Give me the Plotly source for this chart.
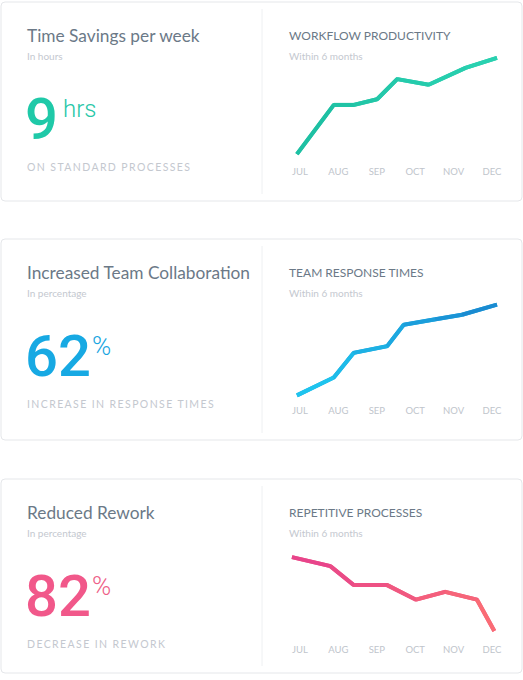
import plotly.graph_objects as go

W, H = 523, 680

# ---------------- data ----------------
months = ["JUL", "AUG", "SEP", "OCT", "NOV", "DEC"]
month_pos = [0, 1, 2, 3, 4, 5]

workflow_x = [-0.08, 0.88, 1.40, 2.01, 2.53, 3.35, 4.31, 5.13]
workflow_y = [7, 51, 51, 56, 74, 69, 84, 93]

response_x = [-0.08, 0.88, 1.40, 2.27, 2.70, 3.52, 4.22, 5.13]
response_y = [5, 21, 43, 49, 68, 73, 77, 86]

repetitive_x = [-0.21, 0.79, 1.40, 2.27, 3.02, 3.78, 4.61, 5.06]
repetitive_y = [74, 66, 49, 49, 36, 43, 36, 8]

card_titles = ["Time Savings per week", "Increased Team Collaboration", "Reduced Rework"]
card_units = ["In hours", "In percentage", "In percentage"]
big_values = ["9", "62", "82"]
big_suffix = ["hrs", "%", "%"]
captions = ["ON STANDARD PROCESSES", "INCREASE IN RESPONSE TIMES", "DECREASE IN REWORK"]
chart_titles = ["WORKFLOW PRODUCTIVITY", "TEAM RESPONSE TIMES", "REPETITIVE PROCESSES"]
chart_subtitle = "Within 6 months"

# ---------------- styles ----------------
grad = [("#1dbfa2", "#2ad2b1"), ("#1ec9f0", "#1a86cf"), ("#e6418d", "#fb6f73")]
big_colors = ["#1fc9a8", "#17a9e3", "#f1588a"]
suffix_colors = ["#28c7a8", "#1aa6e1", "#ee5f88"]

card_top = [2, 239, 479]
card_bot = [201, 440, 673]
plot_top = [50, 289, 528]
plot_bot = [162, 401, 640]

TITLE_C = "#6b7987"
MUTED_C = "#c4c8cf"
FONT = "Lato"


def X(px):
    return px / W


def Y(py):
    return 1 - py / H


def hex2rgb(h):
    h = h.lstrip("#")
    return tuple(int(h[i:i + 2], 16) for i in (0, 2, 4))


def mix(c1, c2, t):
    a, b = hex2rgb(c1), hex2rgb(c2)
    r = [round(a[i] + (b[i] - a[i]) * t) for i in range(3)]
    return "rgb(%d,%d,%d)" % tuple(r)


def rounded_rect(x0, y0, x1, y1, r=4):
    rx, ry = r / W, r / H
    X0, X1 = X(x0), X(x1)
    Yt, Yb = Y(y0), Y(y1)
    return (f"M{X0+rx},{Yt} L{X1-rx},{Yt} Q{X1},{Yt} {X1},{Yt-ry} "
            f"L{X1},{Yb+ry} Q{X1},{Yb} {X1-rx},{Yb} L{X0+rx},{Yb} "
            f"Q{X0},{Yb} {X0},{Yb+ry} L{X0},{Yt-ry} Q{X0},{Yt} {X0+rx},{Yt} Z")


fig = go.Figure()
series = [(workflow_x, workflow_y), (response_x, response_y), (repetitive_x, repetitive_y)]

shapes = []
annotations = []
layout_axes = {}

for i in range(3):
    sx = "" if i == 0 else str(i + 1)
    xs, ys = series[i]
    c0, c1 = grad[i]
    fig.add_trace(go.Scatter(x=xs, y=ys, mode="lines", xaxis="x" + sx, yaxis="y" + sx,
                             line=dict(color=mix(c0, c1, 0.5), width=4),
                             hoverinfo="skip", showlegend=False))
    n = len(xs)
    for k in range(n - 1):
        fig.add_trace(go.Scatter(x=xs[k:k + 2], y=ys[k:k + 2], mode="lines",
                                 xaxis="x" + sx, yaxis="y" + sx,
                                 line=dict(color=mix(c0, c1, (k + 0.5) / (n - 1)), width=4),
                                 hoverinfo="skip", showlegend=False))

    layout_axes["xaxis" + sx] = dict(
        domain=[X(284), X(508)], range=[-0.4167, 5.4167], anchor="y" + sx,
        tickvals=month_pos, ticktext=months, showgrid=False, zeroline=False,
        showline=False, ticks="", fixedrange=True, ticklabelstandoff=2,
        tickfont=dict(family=FONT, size=9.5, color="#c0c5cc"))
    layout_axes["yaxis" + sx] = dict(
        domain=[Y(plot_bot[i]), Y(plot_top[i])], range=[0, 100], anchor="x" + sx,
        visible=False, fixedrange=True)

    shapes.append(dict(type="path", xref="paper", yref="paper",
                       path=rounded_rect(1, card_top[i], 522, card_bot[i]),
                       line=dict(color="#e5e7ea", width=1), fillcolor="white", layer="below"))
    shapes.append(dict(type="line", xref="paper", yref="paper",
                       x0=X(262), x1=X(262), y0=Y(card_top[i] + 7), y1=Y(card_bot[i] - 7),
                       line=dict(color="#eef0f2", width=1), layer="below"))

    t = card_top[i]

    def ann(text, px, py, size, color, family=FONT, weight=None, xanchor="left"):
        f = dict(family=family, size=size, color=color)
        if weight:
            f["weight"] = weight
        annotations.append(dict(text=text, x=X(px), y=Y(py), xref="paper", yref="paper",
                                xanchor=xanchor, yanchor="middle", showarrow=False, font=f))

    ann(card_titles[i], 25, t + 33, 17.3, TITLE_C)
    ann(card_units[i], 25, t + 54, 10, MUTED_C)
    ann(big_values[i], 23, t + 117, 58, big_colors[i], family="Roboto", weight=500)
    suffix_x = 61 if i == 0 else 90
    ann(big_suffix[i], suffix_x, t + 107, 24 if i == 0 else 26, suffix_colors[i],
        family="Roboto", weight=300)
    ann('<span style="letter-spacing:1.4px">' + captions[i] + '</span>', 25, t + 165, 10.5, MUTED_C)
    ann(chart_titles[i], 287, t + 33, 12, TITLE_C)
    ann(chart_subtitle, 287, t + 54, 10, MUTED_C)

fig.update_layout(
    width=W, height=H, margin=dict(l=0, r=0, t=0, b=0),
    paper_bgcolor="white", plot_bgcolor="rgba(0,0,0,0)",
    shapes=shapes, annotations=annotations, showlegend=False,
    **layout_axes,
)

fig.write_html("out.html", config={"displayModeBar": False},
               post_script="document.body.style.margin='0px';")
